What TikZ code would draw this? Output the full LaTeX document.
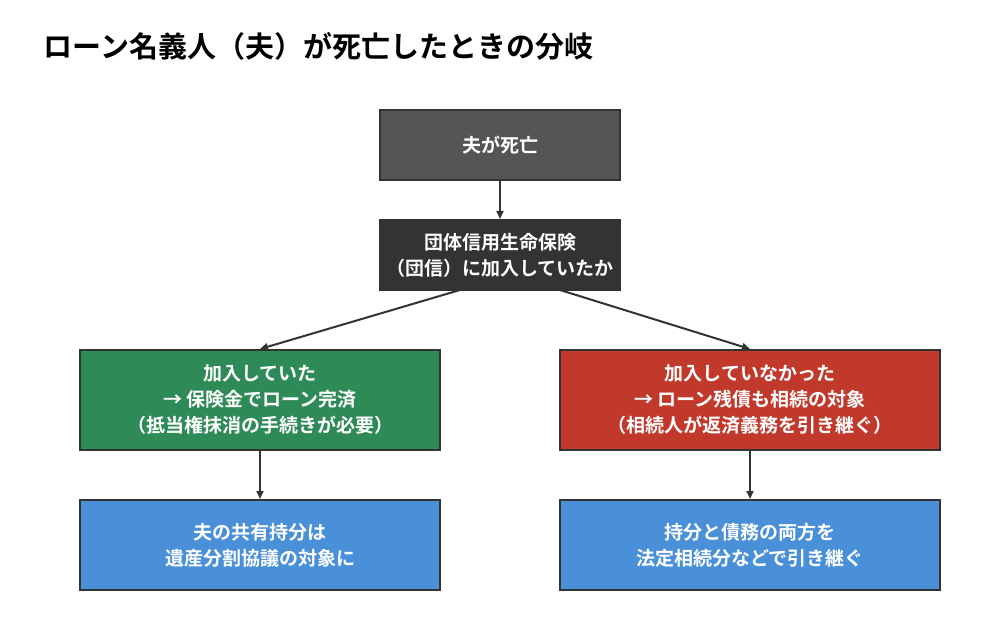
\documentclass[tikz,border=0pt]{standalone}
\usepackage{fontspec}
\setmainfont{Noto Sans CJK JP}[BoldFont={Noto Sans CJK JP Bold}]
\usetikzlibrary{arrows.meta}
\definecolor{bgray}{HTML}{555555}
\definecolor{bdark}{HTML}{333333}
\definecolor{bgreen}{HTML}{2E8B57}
\definecolor{bred}{HTML}{C0392B}
\definecolor{bblue}{HTML}{4A90D9}
\definecolor{edge}{HTML}{333333}
\begin{document}
\begin{tikzpicture}[x=1pt,y=-1pt,
  box/.style={draw=edge,line width=2pt,text=white,font=\bfseries\fontsize{19}{26}\selectfont,align=center,inner sep=0pt},
  arr/.style={draw=edge,line width=2pt,-{Triangle[length=8pt,width=7pt]}}]
\useasboundingbox (0,0) rectangle (1000,620);
\node[anchor=west,font=\bfseries\fontsize{29}{34}\selectfont,text=black] (title) at (40,46) {ローン名義人（夫）が死亡したときの分岐};
\node[box,fill=bgray,minimum width=240pt,minimum height=70pt] (a) at (500,145) {夫が死亡};
\node[box,fill=bdark,minimum width=240pt,minimum height=70pt] (b) at (500,255) {};
\begin{scope}
\clip (380,220) rectangle (620,290);
\node[text=white,font=\bfseries\fontsize{19}{26}\selectfont,align=center] (bt) at (500,255) {団体信用生命保険\\（団信）に加入していたか};
\end{scope}
\node[box,fill=bgreen,minimum width=360pt,minimum height=100pt] (c) at (260,400) {加入していた\\→ 保険金でローン完済\\（抵当権抹消の手続きが必要）};
\node[box,fill=bred,minimum width=380pt,minimum height=100pt] (d) at (750,400) {加入していなかった\\→ ローン残債も相続の対象\\（相続人が返済義務を引き継ぐ）};
\node[box,fill=bblue,minimum width=360pt,minimum height=90pt] (e) at (260,545) {夫の共有持分は\\遺産分割協議の対象に};
\node[box,fill=bblue,minimum width=380pt,minimum height=90pt] (f) at (750,545) {持分と債務の両方を\\法定相続分などで引き継ぐ};
\coordinate (bl) at (460,290);
\coordinate (br) at (560,290);
\draw[arr] (a) -- (b);
\draw[arr] (bl) -- (c.north);
\draw[arr] (br) -- (d.north);
\draw[arr] (c) -- (e);
\draw[arr] (d) -- (f);
\end{tikzpicture}
\end{document}
